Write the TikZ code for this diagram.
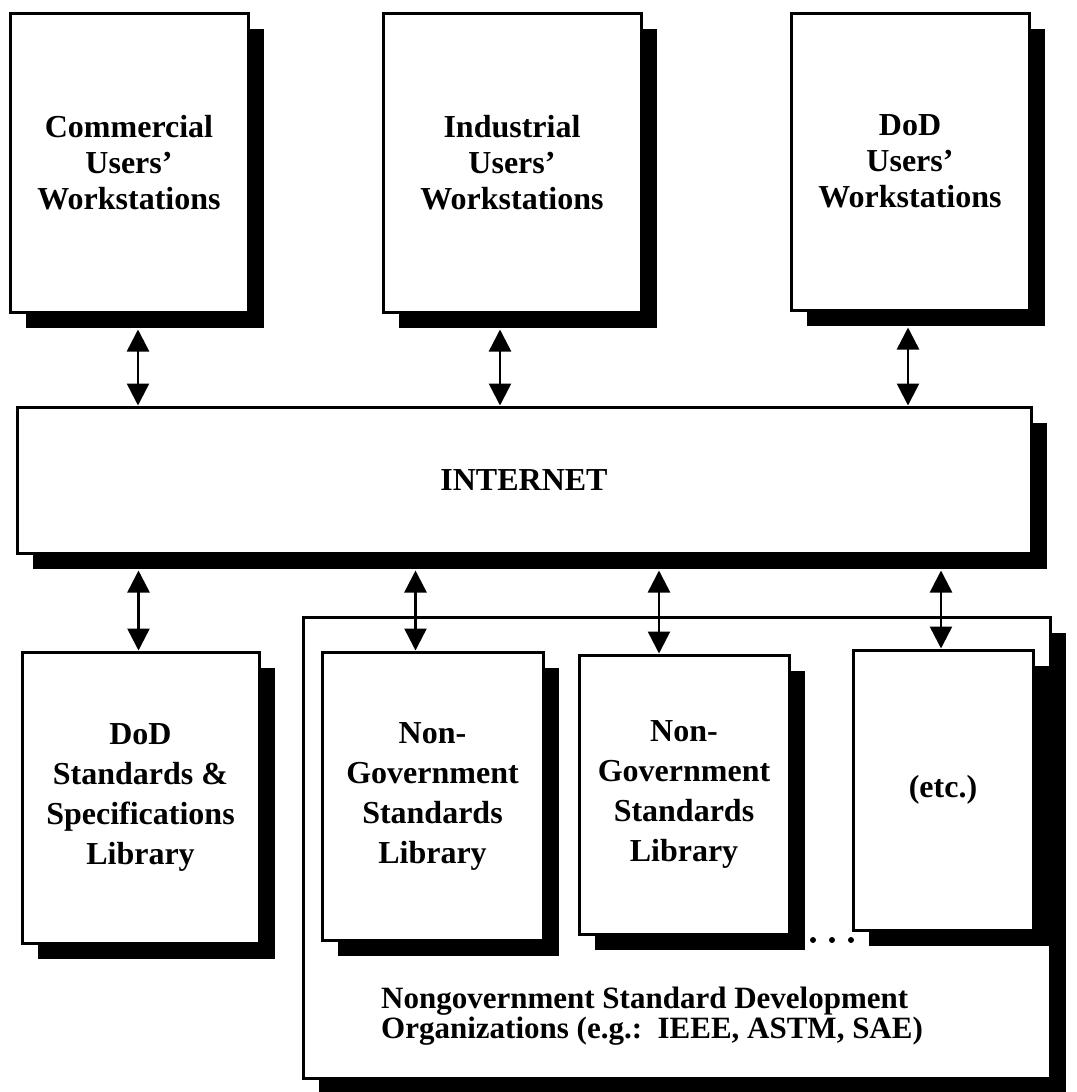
\documentclass[tikz,border=0pt]{standalone}
\usepackage{fontspec}
\setmainfont{Liberation Serif}
\usetikzlibrary{shadows,arrows.meta,calc}

\begin{document}
\begin{tikzpicture}[x=1pt, y=-1pt,
	box/.style={draw, fill=white, line width=3pt, align=center, inner sep=0pt,
		font=\bfseries\fontsize{32}{36}\selectfont,
		drop shadow={shadow xshift=16pt, shadow yshift=-16pt, fill=black, opacity=1}},
	lib/.style={box, font=\bfseries\fontsize{32}{40}\selectfont},
	link/.style={{Triangle[length=22pt,width=22pt]}-{Triangle[length=22pt,width=22pt]}, line width=2.5pt}]
	\useasboundingbox (0, 0) rectangle (1076, 1092);

	\node[box, minimum width=238pt, minimum height=299pt] (comm) at (129, 162.5) {Commercial\\Users'\\Workstations};
	\node[box, minimum width=258pt, minimum height=299pt] (indu) at (512, 162.5) {Industrial\\Users'\\Workstations};
	\node[box, minimum width=238pt, minimum height=297pt] (dodu) at (910, 161.5) {DoD\\Users'\\Workstations};

	\node[box, minimum width=1014pt, minimum height=146pt] (inet) at (524, 480) {INTERNET};

	\node[lib, minimum width=237pt, minimum height=291pt] (dods) at (140.5, 797.5) {DoD\\Standards \&\\Specifications\\Library};

	\node[box, minimum width=747pt, minimum height=461pt] (ngo) at (676.5, 847.5) {};
	\node[lib, minimum width=221pt, minimum height=288pt] (ng1) at (432.5, 796) {Non-\\Government\\Standards\\Library};
	\node[lib, minimum width=210pt, minimum height=279pt] (ng2) at (684, 794.5) {Non-\\Government\\Standards\\Library};
	\node[lib, minimum width=180pt, minimum height=280pt] (etcl) at (943, 790) {(etc.)};
	\node[anchor=west, align=left, inner sep=0pt, font=\bfseries\fontsize{31}{30}\selectfont] (ngotext) at (381, 1016)
		{Nongovernment Standard Development\\Organizations (e.g.:~~IEEE, ASTM, SAE)};

	\fill (813, 940) circle (3pt);
	\fill (832, 940) circle (3pt);
	\fill (851, 940) circle (3pt);

	\draw[link] ($(comm.south)+(9,16)$) -- ($(comm.south |- inet.north)+(9,0)$);
	\draw[link] ($(indu.south)+(-12,16)$) -- ($(indu.south |- inet.north)+(-12,0)$);
	\draw[link] ($(dodu.south)+(-2,16)$) -- ($(dodu.south |- inet.north)+(-2,0)$);

	\draw[link] ($(dods.north |- inet.south)+(-2,16)$) -- ($(dods.north)+(-2,0)$);
	\draw[link] ($(ng1.north |- inet.south)+(-17,16)$) -- ($(ng1.north)+(-17,0)$);
	\draw[link] ($(ng2.north |- inet.south)+(-25,16)$) -- ($(ng2.north)+(-25,0)$);
	\draw[link] ($(etcl.north |- inet.south)+(-2,16)$) -- ($(etcl.north)+(-2,0)$);

\end{tikzpicture}
\end{document}
